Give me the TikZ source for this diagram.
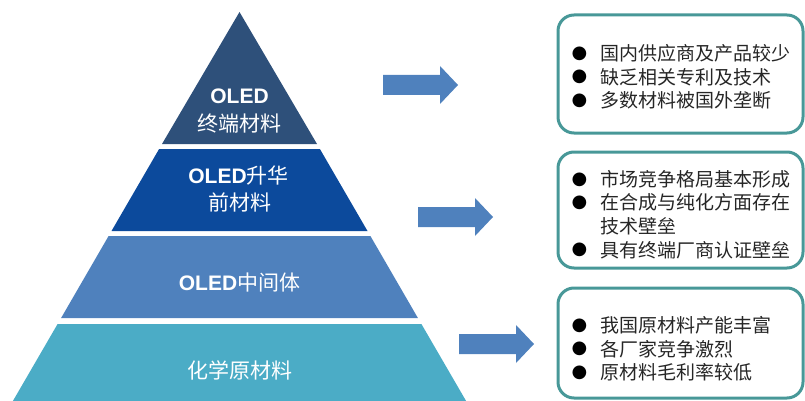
\documentclass[tikz,border=0pt]{standalone}
\usepackage{fontspec}
\setmainfont{Liberation Sans}
\newfontfamily\cjk{Noto Sans CJK SC}
\newfontfamily\symfont{DejaVu Sans}
\definecolor{layone}{RGB}{46,80,122}
\definecolor{laytwo}{RGB}{12,74,156}
\definecolor{laythree}{RGB}{79,129,189}
\definecolor{layfour}{RGB}{75,172,198}
\definecolor{arrowblue}{RGB}{79,129,189}
\definecolor{boxteal}{RGB}{72,152,152}
\definecolor{txtgray}{RGB}{38,38,38}
\begin{document}
\begin{tikzpicture}[x=1pt,y=-1pt,
  laytext/.style={text=white, inner sep=0pt, font=\cjk\fontsize{21}{24}\selectfont},
  oledtext/.style={text=white, inner sep=0pt, font=\bfseries\fontsize{21}{24}\selectfont},
  infobox/.style={draw=boxteal, line width=3pt, rounded corners=16pt, minimum width=245pt, inner sep=0pt},
  itemtext/.style={anchor=west, inner sep=0pt, text=txtgray, font=\cjk\fontsize{19}{23}\selectfont},
  bulletmark/.style={inner sep=0pt, text=black, font=\symfont\fontsize{18}{20}\selectfont},
  barrow/.pic={\fill[arrowblue] (0,-10) -- (57,-10) -- (57,-19) -- (75,0) -- (57,19) -- (57,10) -- (0,10) -- cycle;}
]
\useasboundingbox (0,0) rectangle (805,401);

% pyramid layers
\fill[layone] (239.5,12) -- (317,144) -- (162,144) -- cycle;
\fill[laytwo] (159.1,149) -- (319.9,149) -- (367.5,231) -- (111.5,231) -- cycle;
\fill[laythree] (108.6,236) -- (370.4,236) -- (417.9,318) -- (61.1,318) -- cycle;
\fill[layfour] (57.6,324) -- (421.4,324) -- (466.1,401) -- (12.9,401) -- cycle;

\node[oledtext] (l1a) at (239.5,96.5) {OLED};
\node[laytext] (l1b) at (239.5,123.5) {终端材料};
\node[laytext] (l2a) at (238.5,176) {{\bfseries\rmfamily OLED}升华};
\node[laytext] (l2b) at (239.5,202) {前材料};
\node[laytext] (l3) at (239.5,283) {{\bfseries\rmfamily OLED}中间体};
\node[laytext] (l4) at (239.5,370) {化学原材料};

% arrows
\pic (a1) at (383,85) {barrow};
\pic (a2) at (418,217) {barrow};
\pic (a3) at (459,344) {barrow};

% boxes
\node[infobox, minimum height=118pt] (b1) at (680.5,74) {};
\node[infobox, minimum height=116pt] (b2) at (680.5,210) {};
\node[infobox, minimum height=110pt] (b3) at (680.5,343) {};

% box 1 items
\node[bulletmark] (p11) at (579.5,53.5) {●};
\node[itemtext] (t11) at (600,53.5) {国内供应商及产品较少};
\node[bulletmark] (p12) at (579.5,77) {●};
\node[itemtext] (t12) at (600,77) {缺乏相关专利及技术};
\node[bulletmark] (p13) at (579.5,100.5) {●};
\node[itemtext] (t13) at (600,100.5) {多数材料被国外垄断};

% box 2 items
\node[bulletmark] (p21) at (579.5,179.5) {●};
\node[itemtext] (t21) at (600,179.5) {市场竞争格局基本形成};
\node[bulletmark] (p22) at (579.5,202.5) {●};
\node[itemtext] (t22) at (600,202.5) {在合成与纯化方面存在};
\node[itemtext] (t22b) at (600,226) {技术壁垒};
\node[bulletmark] (p23) at (579.5,250) {●};
\node[itemtext] (t23) at (600,250) {具有终端厂商认证壁垒};

% box 3 items
\node[bulletmark] (p31) at (579.5,325.5) {●};
\node[itemtext] (t31) at (600,325.5) {我国原材料产能丰富};
\node[bulletmark] (p32) at (579.5,349) {●};
\node[itemtext] (t32) at (600,349) {各厂家竞争激烈};
\node[bulletmark] (p33) at (579.5,372.5) {●};
\node[itemtext] (t33) at (600,372.5) {原材料毛利率较低};
\end{tikzpicture}
\end{document}
